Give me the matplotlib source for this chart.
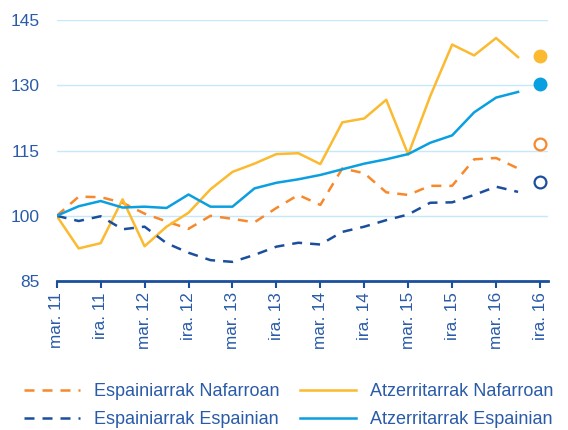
import matplotlib.pyplot as plt

plt.rcParams['font.family'] = ['Liberation Sans', 'DejaVu Sans']

# quarterly index (mar. 11 = 100)
tick_labels = ["mar. 11", "ira. 11", "mar. 12", "ira. 12", "mar. 13", "ira. 13",
               "mar. 14", "ira. 14", "mar. 15", "ira. 15", "mar. 16", "ira. 16"]

esp_naf = [100, 104.4, 104.3, 103.0, 100.5, 98.7, 97.0, 100.0, 99.3, 98.5, 101.8,
           104.8, 102.5, 110.9, 109.8, 105.4, 104.8, 106.9, 106.9, 113.0, 113.3, 110.9]
atz_naf = [100, 92.5, 93.7, 103.8, 93.0, 97.5, 100.7, 106.1, 110.1, 112.0, 114.2,
           114.4, 111.9, 121.5, 122.4, 126.7, 114.1, 127.5, 139.4, 136.9, 140.9, 136.5]
esp_esp = [100, 98.8, 99.9, 96.9, 97.5, 93.7, 91.5, 89.8, 89.4, 91.0, 92.9,
           93.8, 93.4, 96.3, 97.5, 99.0, 100.3, 103.0, 103.1, 104.8, 106.7, 105.5]
atz_esp = [100, 102.2, 103.4, 101.9, 102.1, 101.8, 104.9, 102.1, 102.1, 106.3, 107.6,
           108.4, 109.4, 110.7, 112.0, 113.0, 114.2, 116.8, 118.5, 123.8, 127.2, 128.5]

# last quarter (ira. 16) shown as dots
dot_esp_naf = 116.6
dot_atz_naf = 136.7
dot_esp_esp = 107.8
dot_atz_esp = 130.4

c_orange = '#F7892B'
c_yellow = '#FBBA30'
c_dark = '#1B4F9E'
c_blue = '#0A9FE0'
c_text = '#2A5BA8'

fig = plt.figure(figsize=(5.68, 4.3), dpi=100)
ax = fig.add_axes([0.0998, 0.3465, 0.8645, 0.6065])

x = list(range(len(esp_naf)))
last = len(esp_naf)

l1, = ax.plot(x, esp_naf, color=c_orange, lw=1.8, ls=(0, (4, 3.2)), label="Espainiarrak Nafarroan")
l2, = ax.plot(x, atz_naf, color=c_yellow, lw=1.8, label="Atzerritarrak Nafarroan")
l3, = ax.plot(x, esp_esp, color=c_dark, lw=1.8, ls=(0, (4, 3.2)), label="Espainiarrak Espainian")
l4, = ax.plot(x, atz_esp, color=c_blue, lw=1.8, label="Atzerritarrak Espainian")

ax.plot([last], [dot_atz_naf], 'o', ms=9, color=c_yellow, clip_on=False)
ax.plot([last], [dot_atz_esp], 'o', ms=9, color=c_blue, clip_on=False)
ax.plot([last], [dot_esp_naf], 'o', ms=8.5, mfc='white', mec=c_orange, mew=1.6, clip_on=False)
ax.plot([last], [dot_esp_esp], 'o', ms=8.5, mfc='white', mec=c_dark, mew=1.6, clip_on=False)

ax.set_xlim(0, 22.35)
ax.set_ylim(85, 145)
ax.set_yticks([85, 100, 115, 130, 145])
ax.set_xticks(range(0, 23, 2))
ax.set_xticklabels(tick_labels, rotation=90)

ax.grid(True, axis='y', color='#C6E8F8', lw=1)
ax.set_axisbelow(True)
for s in ['left', 'right', 'top']:
    ax.spines[s].set_visible(False)
ax.spines['bottom'].set_color(c_dark)
ax.spines['bottom'].set_linewidth(2)
ax.tick_params(axis='x', colors=c_dark, length=5, width=1.5, labelsize=12.3, labelcolor=c_text, pad=3)
ax.tick_params(axis='y', length=0, labelsize=12.5, labelcolor=c_text, pad=12)

fig.legend(handles=[l1, l3, l2, l4], loc='lower left', bbox_to_anchor=(24 / 568, 0.004), ncol=2,
           frameon=False, fontsize=13, labelcolor=c_text, handlelength=3.1,
           handletextpad=0.78, columnspacing=1.15, labelspacing=0.6,
           borderpad=0, borderaxespad=0)

fig.savefig('out.png', dpi=100)
